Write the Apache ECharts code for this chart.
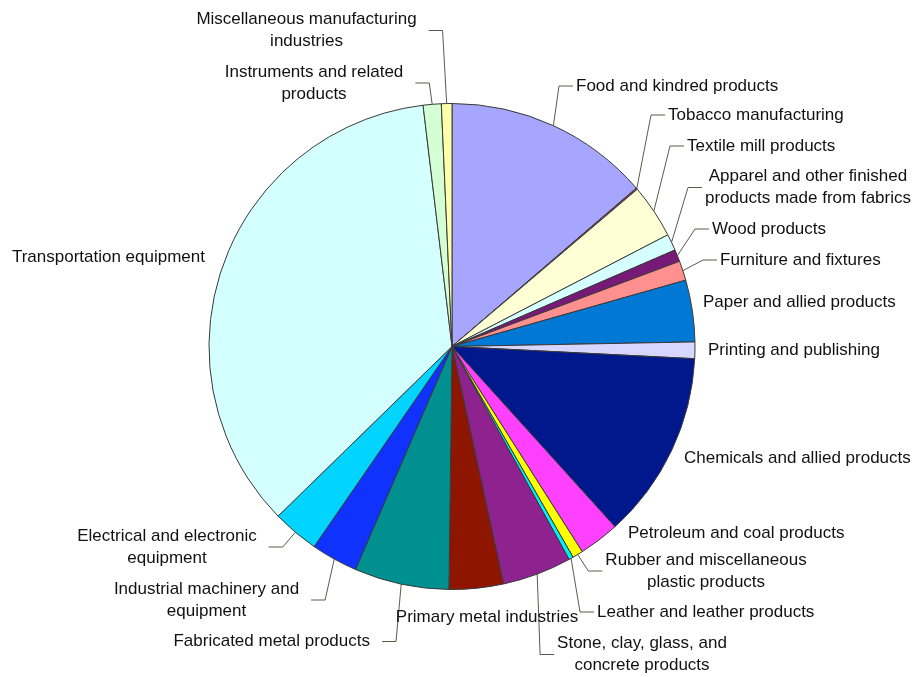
<!DOCTYPE html>
<html>
<head>
<meta charset="utf-8">
<script src="https://cdn.jsdelivr.net/npm/echarts@6/dist/echarts.min.js"></script>
<style>
  html, body { margin: 0; padding: 0; background: #fff; }
  #chart { width: 915px; height: 677px; }
</style>
</head>
<body>
<div id="chart"></div>
<script>
// Industry groups, clockwise from 12 o'clock
const categories = [
  'Food and kindred products',
  'Tobacco manufacturing',
  'Textile mill products',
  'Apparel and other finished\nproducts made from fabrics',
  'Wood products',
  'Furniture and fixtures',
  'Paper and allied products',
  'Printing and publishing',
  'Chemicals and allied products',
  'Petroleum and coal products',
  'Rubber and miscellaneous\nplastic products',
  'Leather and leather products',
  'Stone, clay, glass, and\nconcrete products',
  'Primary metal industries',
  'Fabricated metal products',
  'Industrial machinery and\nequipment',
  'Electrical and electronic\nequipment',
  'Transportation equipment',
  'Instruments and related\nproducts',
  'Miscellaneous manufacturing\nindustries'
];

// Share of total (percent)
const shares = [
  13.7, 0.1, 3.6, 1.1, 0.8, 1.3, 4.1, 1.1, 12.5, 2.7,
  0.7, 0.3, 4.6, 3.6, 6.3, 3.1, 3.1, 35.4, 1.2, 0.7
];

const sliceColors = [
  '#A6A6FF', '#9E3A6E', '#FFFFD6', '#D6FFFF', '#771A77',
  '#FF9090', '#0078D4', '#D6D6FF', '#00188C', '#FF40FF',
  '#FFFF00', '#00F0FF', '#8E2390', '#8E1500', '#009090',
  '#1032FF', '#00D4FF', '#D4FFFF', '#D4FFD4', '#FFFFAA'
];

// Label anchor [x, y, align] and whether a leader line is drawn
const labelSpots = [
  [576, 86, 'left'],
  [668, 115, 'left'],
  [687, 146, 'left'],
  [808, 187.5, 'center'],
  [712, 229, 'left'],
  [720, 260, 'left'],
  [703, 302, 'left'],
  [708, 350, 'left'],
  [684, 458, 'left'],
  [628, 533, 'left'],
  [706, 571, 'center'],
  [597, 612, 'left'],
  [642, 654.5, 'center'],
  [487, 617, 'center'],
  [370, 641.5, 'right'],
  [206.5, 600, 'center'],
  [167, 547, 'center'],
  [205, 257, 'right'],
  [314, 83, 'center'],
  [306.5, 30.5, 'center']
];
const hasLeader = [
  true, true, true, true, true, true, false, false, false, false,
  true, true, true, false, true, true, true, false, true, true
];

const CX = 452, CY = 346.5, R = 243;
const total = shares.reduce((a, b) => a + b, 0);

// mid-angle of each slice, clockwise from 12 o'clock (radians)
const midAngles = [];
(function () {
  let acc = 0;
  shares.forEach(v => {
    midAngles.push(((acc + v / 2) / total) * Math.PI * 2);
    acc += v;
  });
})();

const chart = echarts.init(document.getElementById('chart'), null, { renderer: 'canvas' });

chart.setOption({
  backgroundColor: '#ffffff',
  animation: false,
  series: [{
    type: 'pie',
    left: 0, top: 0, width: 915, height: 677,
    center: [CX, CY],
    radius: R,
    startAngle: 90,
    clockwise: true,
    avoidLabelOverlap: false,
    emphasis: { disabled: true },
    itemStyle: { borderColor: '#3a3a3a', borderWidth: 1 },
    label: {
      show: true,
      position: 'outside',
      color: '#111',
      fontFamily: 'Liberation Sans, Arial, sans-serif',
      fontSize: 17,
      lineHeight: 22,
      overflow: 'none',
      distanceToLabelLine: 0
    },
    labelLine: {
      show: true,
      length: 1,
      length2: 1,
      smooth: false,
      lineStyle: { color: '#5c5c48', width: 1 }
    },
    labelLayout: function (params) {
      const i = params.dataIndex;
      const spot = labelSpots[i];
      const x = spot[0], y = spot[1], align = spot[2];
      const w = params.labelRect.width;
      const out = { x: x, y: y, align: align, verticalAlign: 'middle' };
      if (hasLeader[i]) {
        let left, right;
        if (align === 'left') { left = x; right = x + w; }
        else if (align === 'right') { left = x - w; right = x; }
        else { left = x - w / 2; right = x + w / 2; }
        const a = midAngles[i];
        const edge = [CX + R * Math.sin(a), CY - R * Math.cos(a)];
        let end, elbow;
        if (x > CX - 60 && (left > CX || align === 'left')) {
          end = [left - 3, y];
          elbow = [left - 17, y];
        } else {
          end = [right + 12, y];
          elbow = [right + 26, y];
        }
        out.labelLinePoints = [edge, elbow, end];
      }
      return out;
    },
    data: categories.map((name, i) => ({
      name: name,
      value: shares[i],
      itemStyle: { color: sliceColors[i] },
      labelLine: { show: hasLeader[i] }
    }))
  }]
});
</script>
</body>
</html>
